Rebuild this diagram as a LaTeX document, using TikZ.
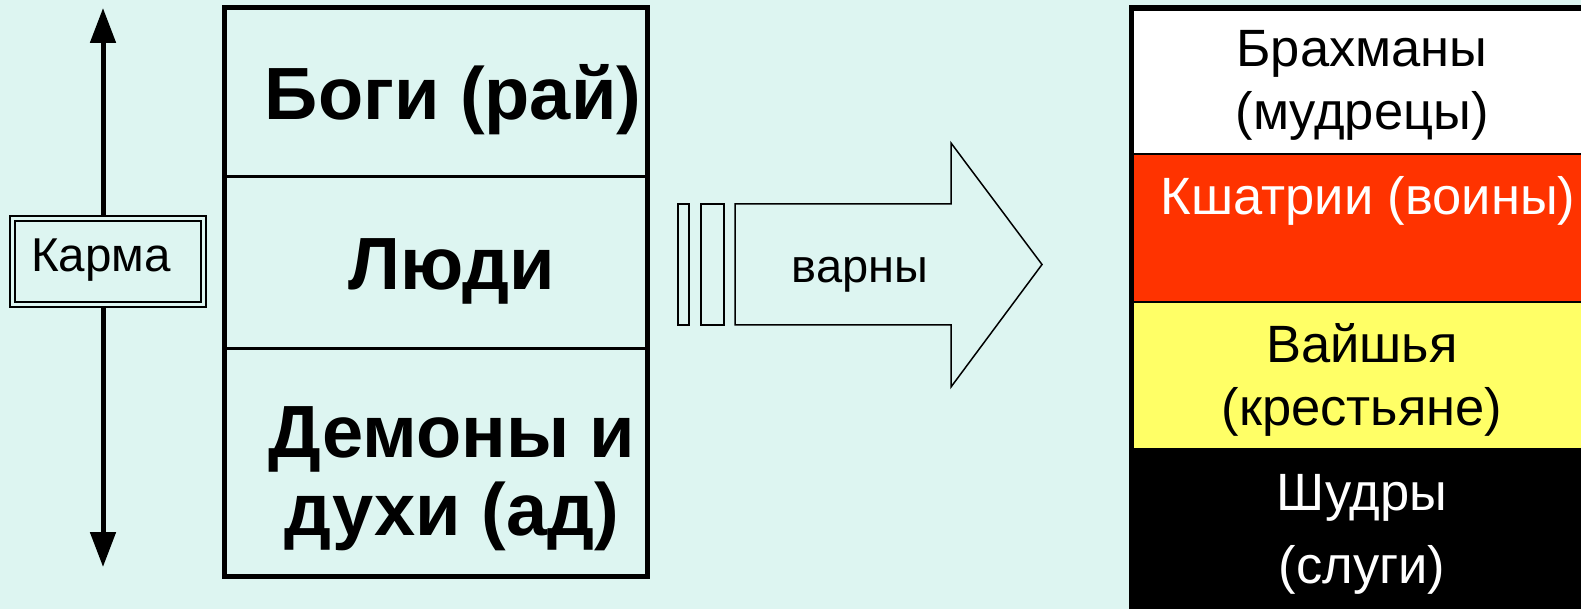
\documentclass[tikz,border=0pt]{standalone}
\usepackage{fontspec}
\setmainfont{Liberation Sans}
\usetikzlibrary{arrows.meta}
\definecolor{bgcyan}{RGB}{221,245,241}
\definecolor{kred}{RGB}{255,51,0}
\definecolor{vyellow}{RGB}{255,255,102}
\def \Frame{(0,0) rectangle (1581,609)}
\def \Worlds{(224,8) rectangle (647,576)}
\tikzset{
  world/.style={font=\fontsize{74}{78}\selectfont\bfseries, anchor=base, inner sep=0pt},
  caste/.style={font=\fontsize{52.5}{60}\selectfont, anchor=base, inner sep=0pt},
  thinline/.style={draw, line width=1.5pt, line join=miter},
}

\begin{document}
\begin{tikzpicture}[x=1pt,y=-1pt]
\fill[bgcyan] \Frame;
\useasboundingbox \Frame;
\clip \Frame;
% karma arrow
\coordinate (up) at (103,8);
\coordinate (down) at (103,567);
\draw[line width=5pt, {Triangle[width=25pt,length=35pt]}-{Triangle[width=25pt,length=35pt]}] (up) -- (down);
\node[draw, double=bgcyan, line width=2pt, double distance=3pt, fill=bgcyan,
      minimum width=191pt, minimum height=86pt, inner sep=0pt] (karma) at (107.5,262) {};
\node[font=\fontsize{47.5}{50}\selectfont, anchor=base, inner sep=0pt] (karmatext) at (101,272) {Карма};
% three worlds
\draw[line width=5pt] \Worlds;
\draw[line width=3pt] (224,177) -- (647,177)
                      (224,348) -- (647,348);
\node[world] (gods) at (453,120) {Боги (рай)};
\node[world] (people) at (452,290) {Люди};
\node[world] (demons) at (452,457) {Демоны и};
\node[world] (spirits) at (452,535) {духи (ад)};
% big arrow
\draw[thinline] (678,204) rectangle (689,325);
\draw[thinline] (701,204) rectangle (724,325);
\draw[thinline] (735,204) -- (951,204) -- (951,143) -- (1042,264.5)
      -- (951,387) -- (951,325) -- (735,325) -- cycle;
\node[font=\fontsize{47}{52}\selectfont, anchor=base, inner sep=0pt] (varna) at (860,283) {варны};
% castes
\fill[white] (1131.5,8) rectangle (1600,154);
\fill[kred] (1131.5,154) rectangle (1600,302);
\fill[vyellow] (1131.5,302) rectangle (1600,448);
\fill[black] (1131.5,448) rectangle (1600,620);
\draw[line width=2.5pt] (1131.5,154) -- (1600,154)
                        (1131.5,302) -- (1600,302);
\draw[line width=5.5pt] (1600,8) -- (1131.5,8) -- (1131.5,620);
\node[caste] (brahm) at (1362,67) {Брахманы};
\node[caste] (brahm2) at (1362,130) {(мудрецы)};
\node[caste, text=white] (kshat) at (1368,215) {Кшатрии (воины)};
\node[caste] (vaish) at (1362,362) {Вайшья};
\node[caste] (vaish2) at (1362,425) {(крестьяне)};
\node[caste, text=white] (shudr) at (1362,510) {Шудры};
\node[caste, text=white] (shudr2) at (1362,583) {(слуги)};
\end{tikzpicture}
\end{document}
